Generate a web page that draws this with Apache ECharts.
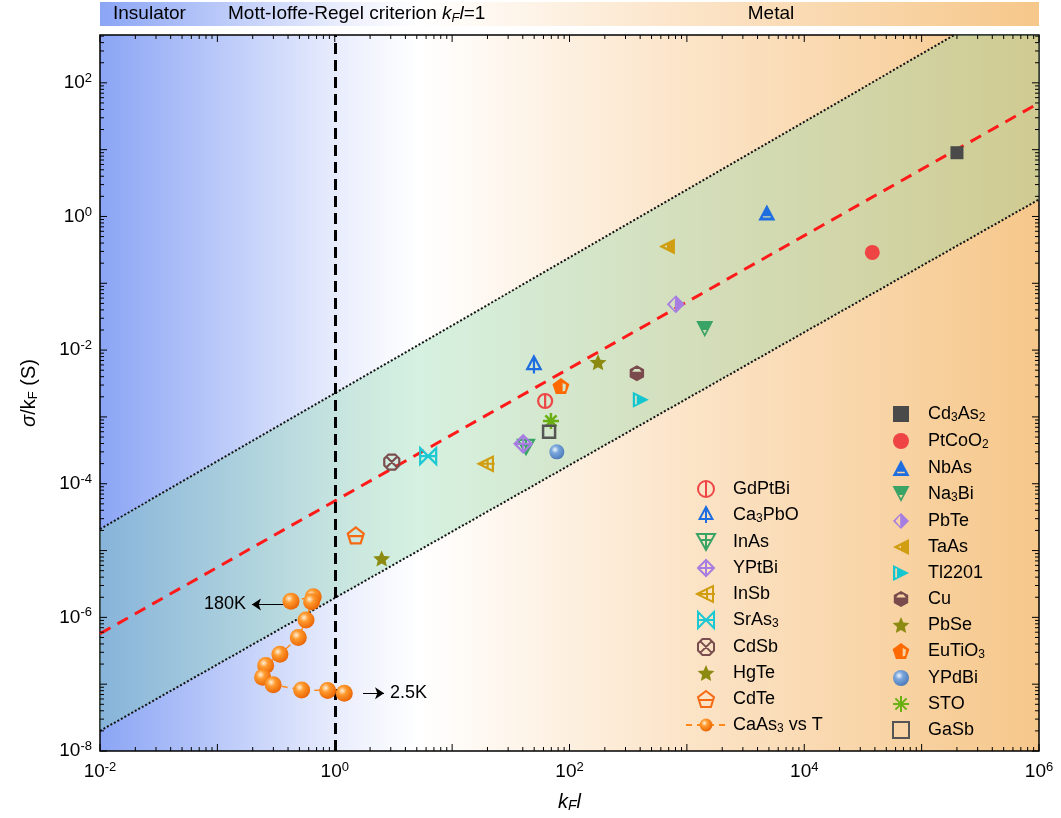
<!DOCTYPE html>
<html>
<head>
<meta charset="utf-8">
<script src="https://cdn.jsdelivr.net/npm/echarts@6/dist/echarts.min.js"></script>
<style>html,body{margin:0;padding:0;background:#fff}#chart{width:1061px;height:818px}</style>
</head>
<body>
<div id="chart"></div>
<script>
// values (x = kF*l, y = sigma/kF in S)
const xRange = [1e-2, 1e6];
const yRange = [1e-8, 520];
const yLabelTicks = [1e-8, 1e-6, 1e-4, 1e-2, 1e0, 1e2];

const leftNames = ['GdPtBi', 'Ca3PbO', 'InAs', 'YPtBi', 'InSb', 'SrAs3', 'CdSb', 'HgTe', 'CdTe'];
const leftPoints = [[62, 1.73e-3], [49.8, 6.0e-3], [42.6, 3.56e-4], [40.3, 3.95e-4], [19.7, 1.99e-4],
  [6.25, 2.59e-4], [3.06, 2.11e-4], [2.51, 7.6e-6], [1.51, 1.69e-5]];

const rightNames = ['Cd3As2', 'PtCoO2', 'NbAs', 'Na3Bi', 'PbTe', 'TaAs', 'Tl2201', 'Cu', 'PbSe', 'EuTiO3', 'YPdBi', 'STO', 'GaSb'];
const rightPoints = [[2.0e5, 9.0], [3.8e4, 0.29], [4.8e3, 1.15], [1.42e3, 0.0206], [805, 0.0486], [676, 0.356],
  [405, 1.8e-3], [375, 4.5e-3], [175, 6.6e-3], [84.5, 2.9e-3], [78, 3.0e-4], [69.5, 8.7e-4], [67, 6.0e-4]];

const caas3Name = 'CaAs3 vs T';
const caas3KFl = [0.424, 0.656, 0.635, 0.569, 0.489, 0.341, 0.258, 0.243, 0.299, 0.522, 0.87, 1.205];
const caas3Sigma = [1.75e-6, 2.04e-6, 1.71e-6, 9.1e-7, 4.98e-7, 2.8e-7, 1.9e-7, 1.27e-7, 9.8e-8, 8.2e-8, 8.05e-8, 7.3e-8];

const fitLine = [[1e-2, 5.7e-7], [1e6, 50]];
const bandUpper = [[1e-2, 2.1e-5], [1.9e5, 520]];
const bandLower = [[1e-2, 2e-8], [1e6, 1.8]];
const mirLimit = 1; // kF*l = 1

const notes = [
  { text: '180K', from: [0.377, 1.56e-6], to: [0.197, 1.56e-6] },
  { text: '2.5K', from: [1.74, 7.3e-8], to: [2.63, 7.3e-8] }
];

// ---- symbols and styles ----
const P = d => 'path://' + d;
function star(ri) {
  let d = '';
  for (let i = 0; i < 10; i++) {
    const r = i % 2 ? ri : 10, a = -Math.PI / 2 + i * Math.PI / 5;
    d += (i ? 'L' : 'M') + (10 + r * Math.cos(a)).toFixed(2) + ',' + (10 + r * Math.sin(a)).toFixed(2);
  }
  return d + 'Z';
}
function sphere(light, mid, dark) {
  return { type: 'radial', x: 0.38, y: 0.35, r: 0.7,
    colorStops: [{ offset: 0, color: light }, { offset: 0.35, color: mid }, { offset: 1, color: dark }] };
}
const SQUARE = P('M0,0L20,0L20,20L0,20Z');

const leftStyle = {
  GdPtBi: { symbol: P('M10,1A9,9 0 1,1 9.99,1ZM10,1L10,19'), color: '#ee4646', size: 14 },
  Ca3PbO: { symbol: P('M10,0L18,15L2,15ZM10,0L10,20'), color: '#1e6ee0', size: 17 },
  InAs: { symbol: P('M1,2L19,2L10,18ZM10,2L10,18M5,8L15,8'), color: '#3aa466', size: 16 },
  YPtBi: { symbol: P('M10,0L20,10L10,20L0,10ZM10,0L10,20M0,10L20,10'), color: '#a67de0', size: 17 },
  InSb: { symbol: P('M2,10L18,2L18,18ZM2,10L20,10M12,4L12,16'), color: '#d09e10', size: 16 },
  SrAs3: { symbol: P('M2,2L18,18L18,2L2,18ZM2,10L18,10'), color: '#1cc8d2', size: 16 },
  CdSb: { symbol: P('M6,1L14,1L19,6L19,14L14,19L6,19L1,14L1,6ZM4,4L16,16M16,4L4,16'), color: '#7a4e4e', size: 15 },
  HgTe: { symbol: P(star(4.6)), color: '#8c8a10', size: 17, fill: true },
  CdTe: { symbol: P('M10,1L19,8L15.5,19L4.5,19L1,8ZM2.5,11L17.5,11'), color: '#f56a12', size: 16 }
};
const rightStyle = {
  Cd3As2: { symbol: SQUARE, color: '#4a4a4a', size: 13 },
  PtCoO2: { symbol: 'circle', color: '#ef4444', size: 15 },
  NbAs: { symbol: P('M10,1L19,18L1,18ZM6,13.5L6,15L14,15L14,13.5Z'), color: '#1e6ee0', size: 17 },
  Na3Bi: { symbol: P('M1,2L19,2L10,19ZM8,11.5L10,15L12,11.5Z'), color: '#3aa466', size: 17 },
  PbTe: { symbol: P('M10,0L20,10L10,20L0,10ZM9,3L3,10L9,17Z'), color: '#a67de0', size: 18 },
  TaAs: { symbol: P('M1,10L19,1L19,19ZM7,10L10,11.5L10,8.5Z'), color: '#d09e10', size: 16 },
  Tl2201: { symbol: P('M1,1L19,10L1,19ZM3.5,5L3.5,15L5.5,15L5.5,5Z'), color: '#14c6d0', size: 16 },
  Cu: { symbol: P('M10,0L19,5L19,15L10,20L1,15L1,5ZM4,8L16,8L13,4.5L7,4.5Z'), color: '#7a4a4c', size: 16 },
  PbSe: { symbol: P(star(4.6)), color: '#8c8a10', size: 17 },
  EuTiO3: { symbol: P('M10,0L20,7.5L16,19L4,19L0,7.5ZM12,6L12,16L15,15L16,8Z'), color: '#ff6a00', size: 17 },
  YPdBi: { symbol: 'circle', color: sphere('#f2f7ff', '#7aa6dc', '#4a78b8'), size: 15 },
  STO: { symbol: P('M10,0L10,20M0,10L20,10M3,3L17,17M17,3L3,17'), color: '#6ab012', size: 16, stroke: true },
  GaSb: { symbol: SQUARE, color: '#555555', size: 12, stroke: true }
};

const FONT = '"Liberation Sans", Arial, sans-serif';

function legendLabel(name) {
  if (name === 'Tl2201') return '{a|Tl2201}';
  return '{a|' + name.replace(/(\d)/g, '}{s|$1}{a|') + '}';
}
function powText(v) {
  return '{b|10}{sup|' + Math.round(Math.log10(v)) + '}';
}
function powLabel(v) {
  const e = Math.round(Math.log10(v));
  if (Math.abs(Math.log10(v) - e) > 1e-6 || e % 2 !== 0) return '';
  return powText(v);
}
const tickRich = {
  b: { fontSize: 19, fontFamily: FONT, color: '#000', fill: '#000', lineHeight: 22 },
  sup: { fontSize: 13, fontFamily: FONT, color: '#000', fill: '#000', verticalAlign: 'top', lineHeight: 14 }
};

const seriesList = [];

// shaded band between the two dotted lines
seriesList.push({
  type: 'custom', silent: true, z: 1, data: [[1, 1]],
  renderItem: (params, api) => {
    const pts = [bandLower[0], bandUpper[0], bandUpper[1], [xRange[1], yRange[1]], bandLower[1]].map(p => api.coord(p));
    return { type: 'polygon', shape: { points: pts }, style: { fill: 'rgba(128,212,162,0.32)' } };
  }
});

// log ticks on all four sides, plus y tick labels
seriesList.push({
  type: 'custom', silent: true, z: 6, data: [[1, 1]], clip: false,
  renderItem: (params, api) => {
    const cs = params.coordSys;
    const kids = [];
    const seg = (x1, y1, x2, y2) => kids.push({ type: 'line', shape: { x1, y1, x2, y2 }, style: { stroke: '#000', lineWidth: 1 } });
    const bottom = cs.y + cs.height, right = cs.x + cs.width;
    for (let e = Math.floor(Math.log10(xRange[0])); e <= Math.log10(xRange[1]); e++) {
      for (let m = 1; m <= 9; m++) {
        const v = m * Math.pow(10, e);
        if (v < xRange[0] * 0.999 || v > xRange[1] * 1.001) continue;
        const len = m === 1 ? 7 : 4;
        const px = api.coord([v, yRange[0]])[0];
        seg(px, bottom, px, bottom - len);
        seg(px, cs.y, px, cs.y + len);
      }
    }
    for (let e = Math.floor(Math.log10(yRange[0])); e <= Math.log10(yRange[1]); e++) {
      for (let m = 1; m <= 9; m++) {
        const v = m * Math.pow(10, e);
        if (v < yRange[0] * 0.999 || v > yRange[1]) continue;
        const len = m === 1 ? 7 : 4;
        const py = api.coord([xRange[0], v])[1];
        seg(cs.x, py, cs.x + len, py);
        seg(right, py, right - len, py);
      }
    }
    yLabelTicks.forEach(v => {
      const py = api.coord([xRange[0], v])[1];
      kids.push({ type: 'text', x: cs.x - 8, y: py,
        style: { text: powText(v), rich: tickRich, align: 'right', verticalAlign: 'middle' } });
    });
    return { type: 'group', children: kids };
  }
});

// dotted limits of the band
[bandUpper, bandLower].forEach(b => seriesList.push({
  type: 'line', data: b, symbol: 'none', silent: true, z: 2,
  lineStyle: { color: '#111', width: 2, type: [2, 2] }
}));

// fit line and kF*l = 1 boundary
seriesList.push({
  type: 'line', data: fitLine, symbol: 'none', silent: true, z: 3,
  lineStyle: { color: '#ff1a1a', width: 3, type: [12, 8] },
  markLine: {
    silent: true, symbol: 'none', label: { show: false },
    lineStyle: { color: '#000', width: 3, type: [11, 6] },
    data: [{ xAxis: mirLimit }]
  }
});

leftNames.forEach((n, i) => {
  const s = leftStyle[n];
  seriesList.push({
    name: n, type: 'scatter', z: 4, data: [leftPoints[i]],
    symbol: s.symbol, symbolSize: s.size, symbolKeepAspect: true,
    itemStyle: s.fill ? { color: s.color, opacity: 1 }
      : { color: 'rgba(255,255,255,0)', borderColor: s.color, borderWidth: 2.2, opacity: 1 }
  });
});

rightNames.forEach((n, i) => {
  const s = rightStyle[n];
  seriesList.push({
    name: n, type: 'scatter', z: 5, data: [rightPoints[i]],
    symbol: s.symbol, symbolSize: s.size, symbolKeepAspect: true,
    itemStyle: s.stroke ? { color: 'rgba(255,255,255,0)', borderColor: s.color, borderWidth: 2.5, opacity: 1 }
      : { color: s.color, opacity: 1 }
  });
});

seriesList.push({
  name: caas3Name, type: 'line', z: 5,
  data: caas3KFl.map((x, i) => [x, caas3Sigma[i]]),
  symbol: 'circle', symbolSize: 17,
  itemStyle: { color: sphere('#fff2dc', '#ff9a2e', '#e86000'), opacity: 1 },
  lineStyle: { color: '#ff8a1a', width: 1.5, type: [6, 5] },
  markLine: {
    silent: true, symbol: ['none', 'arrow'], symbolSize: 9,
    lineStyle: { color: '#000', width: 1, type: 'solid' },
    label: { show: true, position: 'end', distance: 6, color: '#000', fontSize: 18, fontFamily: FONT,
      formatter: p => p.data.note },
    data: notes.map(a => [{ coord: a.from, note: a.text }, { coord: a.to, note: a.text }])
  }
});

const bgStops = [
  { offset: 0, color: '#8ba5f5' },
  { offset: 0.27, color: '#eef1fd' },
  { offset: 0.34, color: '#ffffff' },
  { offset: 0.6, color: '#fce6cc' },
  { offset: 1, color: '#f6c78a' }
];

const legendRich = {
  a: { fontSize: 18, fontFamily: FONT, color: '#000', lineHeight: 20 },
  s: { fontSize: 12, fontFamily: FONT, color: '#000', lineHeight: 8, verticalAlign: 'bottom' }
};
const legendBase = {
  orient: 'vertical', itemWidth: 40, itemHeight: 16, itemGap: 8,
  textStyle: { padding: [0, 0, 0, 2], rich: legendRich },
  formatter: legendLabel, selectedMode: false
};

const chart = echarts.init(document.getElementById('chart'));
chart.setOption({
  animation: false,
  backgroundColor: '#fff',
  grid: {
    left: 100, right: 22, top: 35, bottom: 65, show: true,
    borderColor: '#000', borderWidth: 1.5,
    backgroundColor: new echarts.graphic.LinearGradient(0, 0, 1, 0, bgStops)
  },
  xAxis: {
    type: 'log', logBase: 10, min: xRange[0], max: xRange[1], splitNumber: 8,
    axisLine: { show: false }, axisTick: { show: false }, splitLine: { show: false },
    axisLabel: { margin: 10, formatter: powLabel, rich: tickRich },
    name: '{i|k}{is|F}{i|l}', nameLocation: 'middle', nameGap: 40,
    nameTextStyle: { rich: {
      i: { fontSize: 20, fontStyle: 'italic', fontFamily: FONT, color: '#000', lineHeight: 22 },
      is: { fontSize: 14, fontStyle: 'italic', fontFamily: FONT, color: '#000', lineHeight: 8, verticalAlign: 'bottom' }
    } }
  },
  yAxis: {
    type: 'log', logBase: 10, min: yRange[0], max: yRange[1],
    axisLine: { show: false }, axisTick: { show: false }, splitLine: { show: false },
    axisLabel: { show: false },
    name: '{i|σ}{n|/k}{s|F}{n| (S)}', nameLocation: 'middle', nameGap: 60,
    nameTextStyle: { rich: {
      i: { fontSize: 20, fontStyle: 'italic', fontFamily: FONT, color: '#000', lineHeight: 22 },
      n: { fontSize: 20, fontFamily: FONT, color: '#000', lineHeight: 22 },
      s: { fontSize: 13, fontFamily: FONT, color: '#000', lineHeight: 8, verticalAlign: 'bottom' }
    } }
  },
  legend: [
    Object.assign({ data: leftNames.concat([caas3Name]), left: 680, top: 475 }, legendBase),
    Object.assign({ data: rightNames, left: 887, top: 400 }, legendBase)
  ],
  graphic: [
    { type: 'rect', shape: { x: 100, y: 2, width: 939, height: 24 },
      style: { fill: new echarts.graphic.LinearGradient(0, 0, 1, 0, bgStops) } },
    { type: 'text', x: 113, y: 14, style: { text: 'Insulator', font: '19px ' + FONT, fill: '#000', verticalAlign: 'middle' } },
    { type: 'text', x: 228, y: 14, style: {
      text: '{n|Mott-Ioffe-Regel criterion }{i|k}{is|F}{i|l}{n|=1}', verticalAlign: 'middle',
      rich: {
        n: { fontSize: 19, fontFamily: FONT, fill: '#000', lineHeight: 22 },
        i: { fontSize: 19, fontStyle: 'italic', fontFamily: FONT, fill: '#000', lineHeight: 22 },
        is: { fontSize: 13, fontStyle: 'italic', fontFamily: FONT, fill: '#000', lineHeight: 8, verticalAlign: 'bottom' }
      } } },
    { type: 'text', x: 771, y: 14, style: { text: 'Metal', font: '19px ' + FONT, fill: '#000', align: 'center', verticalAlign: 'middle' } }
  ],
  series: seriesList
});
</script>
</body>
</html>
